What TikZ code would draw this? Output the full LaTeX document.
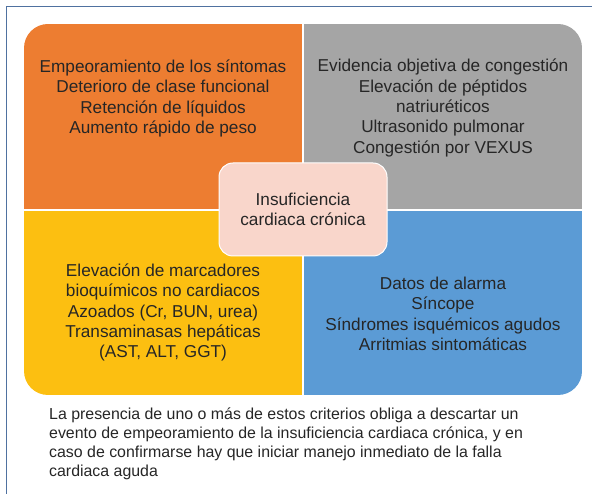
\documentclass[tikz,border=0pt]{standalone}
\usepackage{fontspec}
\setmainfont{Liberation Sans}
\definecolor{naranja}{RGB}{237,125,49}
\definecolor{gris}{RGB}{165,165,165}
\definecolor{amarillo}{RGB}{252,191,17}
\definecolor{azul}{RGB}{91,155,213}
\definecolor{rosa}{RGB}{249,214,203}
\definecolor{marco}{RGB}{79,113,160}
\definecolor{texto}{RGB}{38,38,38}

\tikzset{
  cuadro/.style={align=center, text=texto, inner sep=0pt,
    font=\fontsize{17.2}{20.4}\selectfont},
  nota/.style={align=left, text=texto, inner sep=0pt,
    font=\fontsize{15.9}{19}\selectfont}
}

\begin{document}
\begin{tikzpicture}[x=1pt,y=-1pt]
		\useasboundingbox (0,0) rectangle (592,494);
		% Marco
		\draw [marco, line width=1.8pt] (6.5,494) -- (6.5,6.5) -- (592,6.5);
		% Cuadrantes
		\begin{scope}
			\clip [rounded corners=24pt] (24,24) rectangle (582,395);
			\fill [naranja] (24,24) rectangle (302,209);
			\fill [gris] (304,24) rectangle (582,209);
			\fill [amarillo] (24,211) rectangle (302,395);
			\fill [azul] (304,211) rectangle (582,395);
		\end{scope}
		% Textos
		\node [cuadro] (sintomas) at (163,98.5) {Empeoramiento de los síntomas\\Deterioro de clase funcional\\Retención de líquidos\\Aumento rápido de peso};
		\node [cuadro] (congestion) at (443,108) {Evidencia objetiva de congestión\\Elevación de péptidos\\natriuréticos\\Ultrasonido pulmonar\\Congestión por VEXUS};
		\node [cuadro] (marcadores) at (163,312.5) {Elevación de marcadores\\bioquímicos no cardiacos\\Azoados (Cr, BUN, urea)\\Transaminasas hepáticas\\(AST, ALT, GGT)};
		\node [cuadro] (alarma) at (443,314) {Datos de alarma\\Síncope\\Síndromes isquémicos agudos\\Arritmias sintomáticas};
		% Centro
		\node [cuadro, fill=rosa, draw=white, line width=1pt, rounded corners=14pt,
			minimum width=168pt, minimum height=93pt] (icc) at (303,209.5) {Insuficiencia\\cardiaca crónica};
		% Nota
		\node [nota, anchor=west] (pie) at (49,444) {La presencia de uno o más de estos criterios obliga a descartar un\\evento de empeoramiento de la insuficiencia cardiaca crónica, y en\\caso de confirmarse hay que iniciar manejo inmediato de la falla\\cardiaca aguda};
	\end{tikzpicture}
\end{document}
